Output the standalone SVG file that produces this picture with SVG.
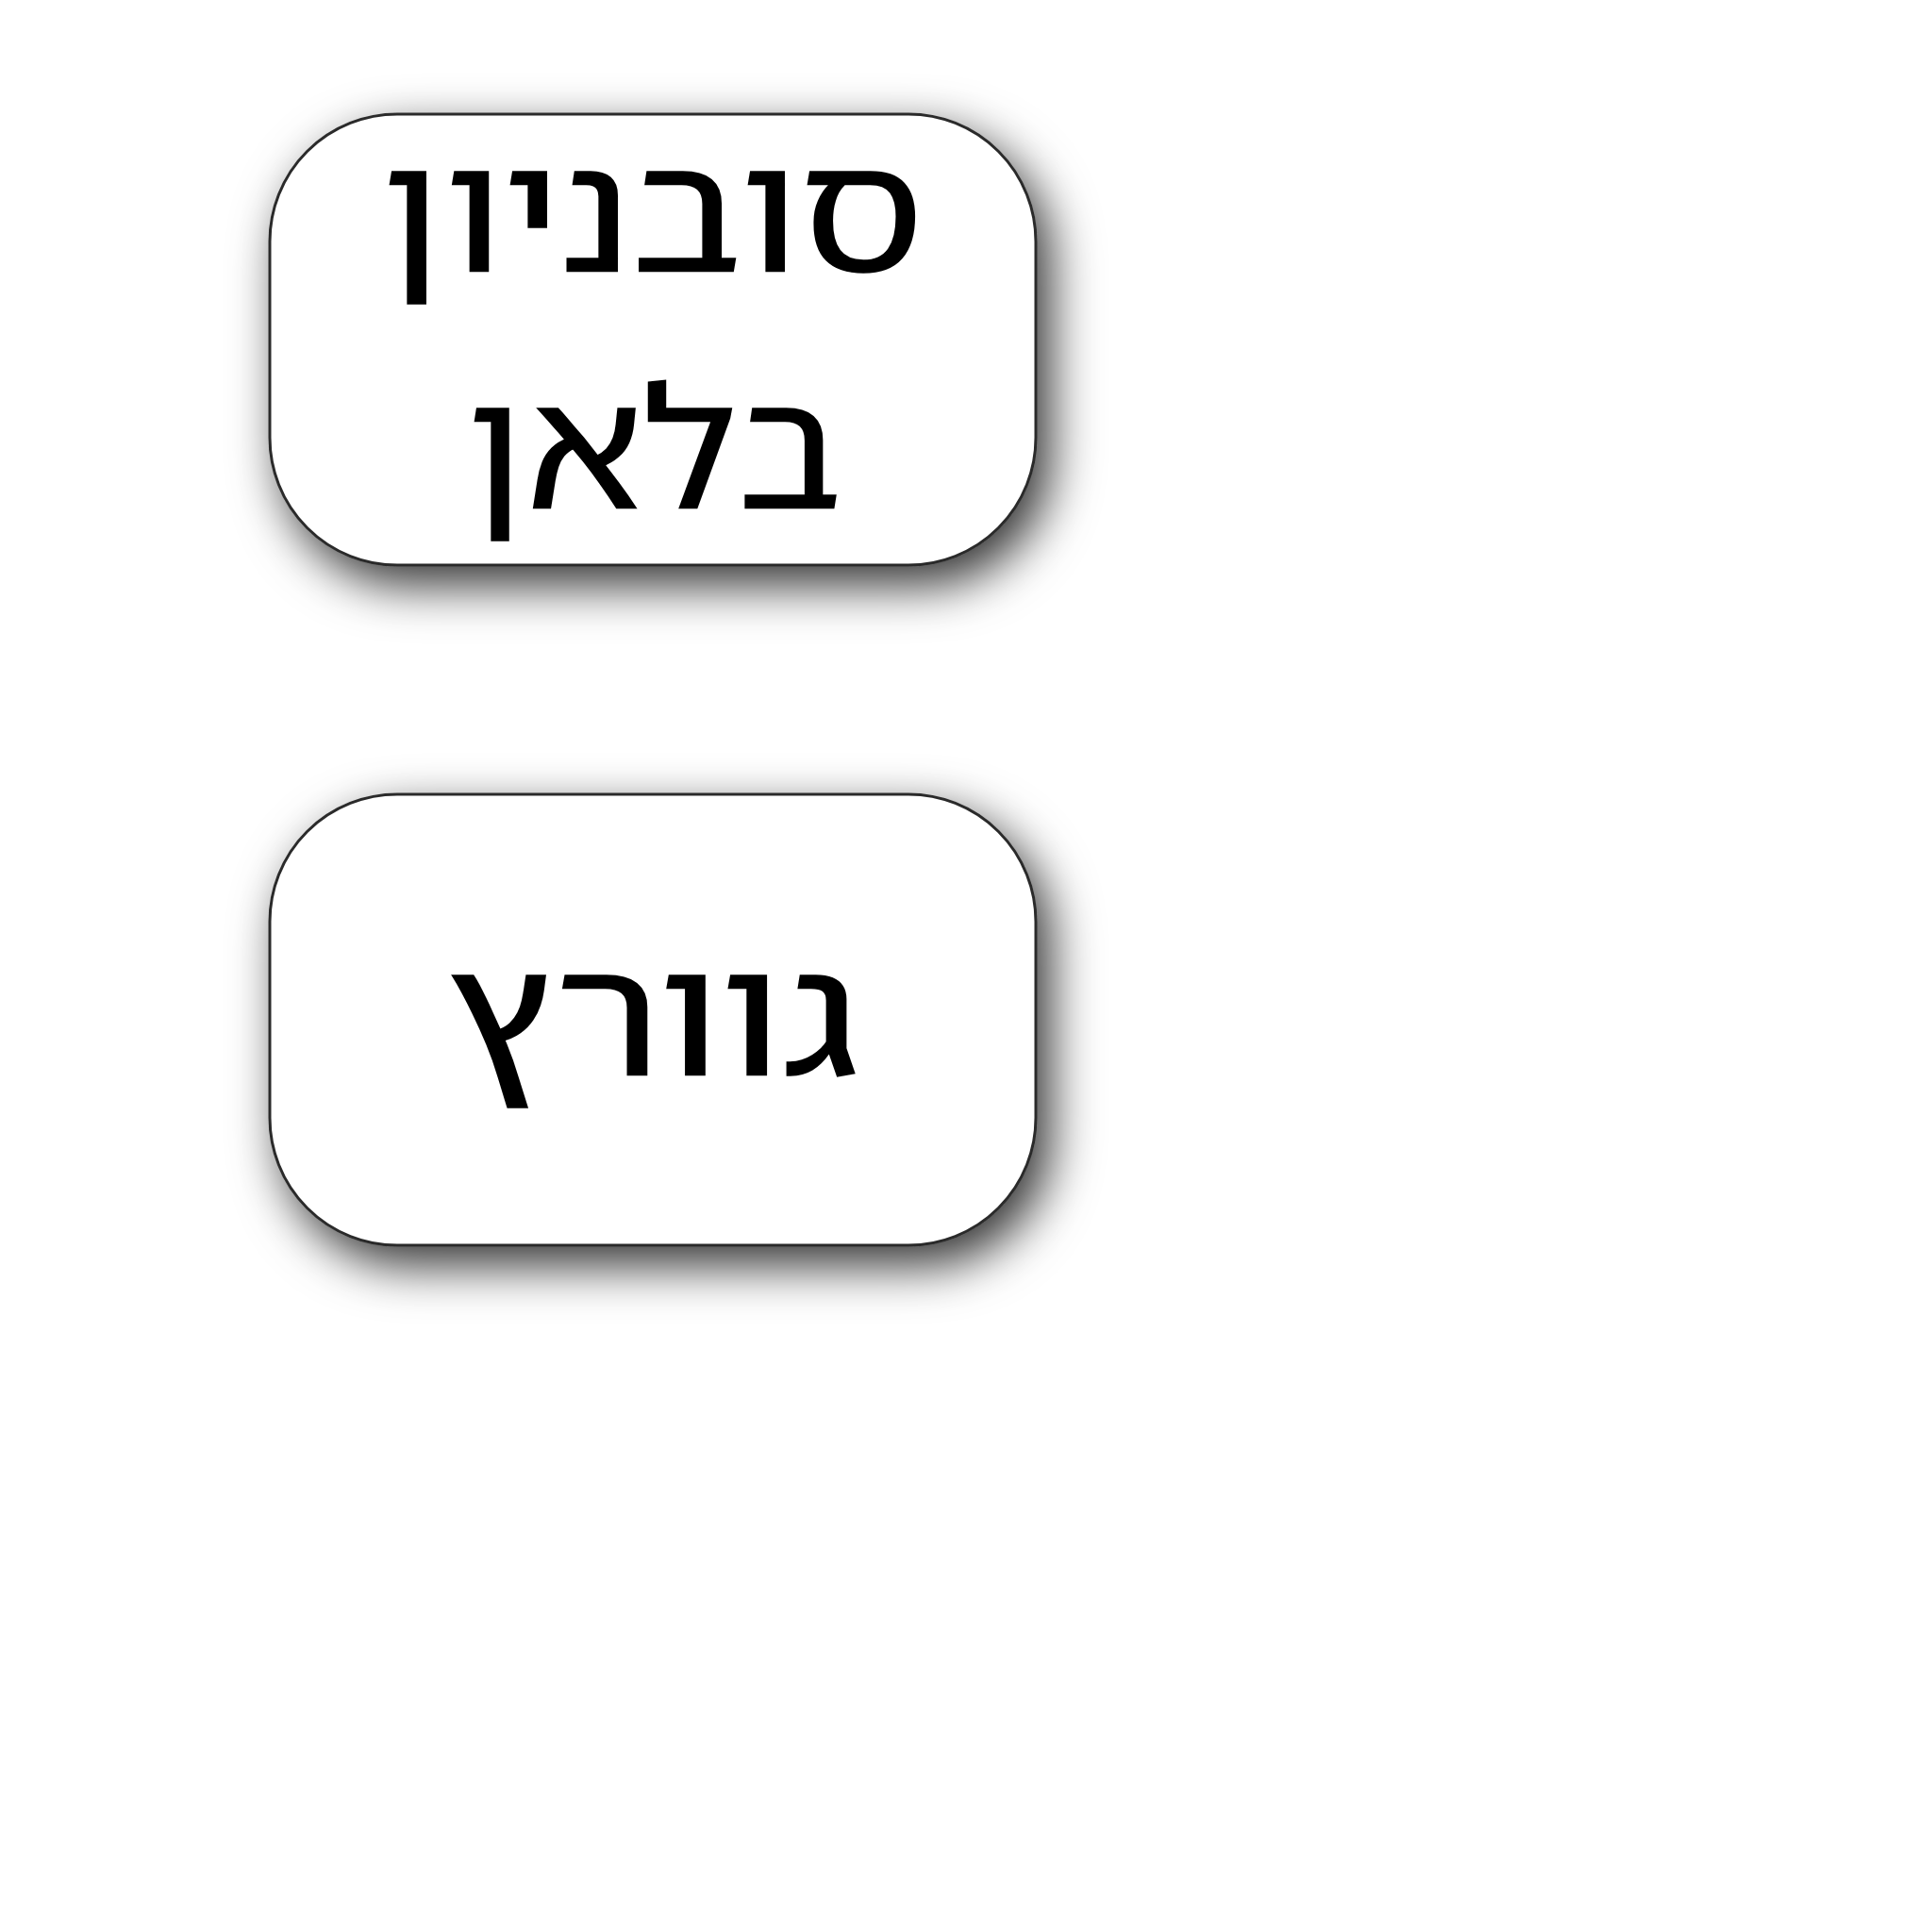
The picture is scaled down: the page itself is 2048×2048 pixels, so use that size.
<svg xmlns="http://www.w3.org/2000/svg" width="2048" height="2048" viewBox="0 0 2048 2048">
<style>
.box{fill:#ffffff;stroke:#2b2b2b;stroke-width:3;filter:url(#sh)}
.lbl{font-family:"Noto Sans Hebrew","Noto Sans","DejaVu Sans",sans-serif;font-size:178px;font-weight:400;fill:#000;stroke:#000;stroke-width:1.5;text-anchor:middle}
</style>
<defs>
<filter id="sh" x="-40%" y="-40%" width="180%" height="180%">
<feDropShadow dx="14" dy="20" stdDeviation="26" flood-color="#000" flood-opacity="0.8"/>
</filter>
</defs>
<rect width="2048" height="2048" fill="#fff"/>
<g id="connectors"></g>
<g id="node1">
<rect class="box" x="286" y="121" width="812" height="478" rx="135" ry="135"/>
<text class="lbl" x="692" y="288" direction="rtl" textLength="575" lengthAdjust="spacingAndGlyphs">סובניון</text>
<text class="lbl" x="694" y="539" direction="rtl" textLength="398" lengthAdjust="spacingAndGlyphs">בלאן</text>
</g>
<g id="node2">
<rect class="box" x="286" y="842" width="812" height="478" rx="135" ry="135"/>
<text class="lbl" x="692" y="1140" direction="rtl" textLength="437" lengthAdjust="spacingAndGlyphs">גוורץ</text>
</g>
</svg>
